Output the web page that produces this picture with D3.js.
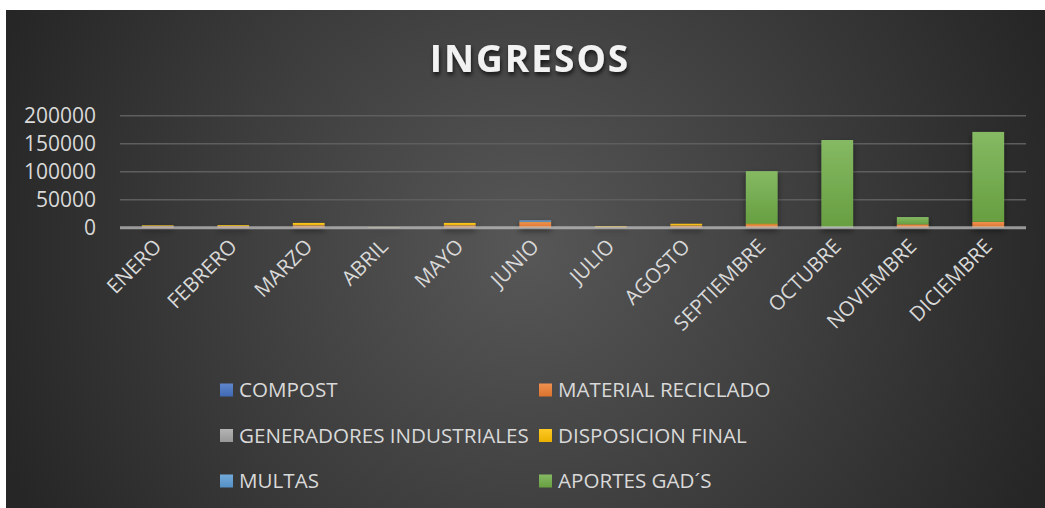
<!DOCTYPE html>
<html><head><meta charset="utf-8">
<script src="https://cdn.jsdelivr.net/npm/d3@7"></script>
<style>body{margin:0;background:#fff;}svg{display:block;}text{font-family:"Open Sans",sans-serif;}</style>
</head><body>
<script>
const months = ["ENERO","FEBRERO","MARZO","ABRIL","MAYO","JUNIO","JULIO","AGOSTO","SEPTIEMBRE","OCTUBRE","NOVIEMBRE","DICIEMBRE"];
const seriesNames = ["COMPOST","MATERIAL RECICLADO","GENERADORES INDUSTRIALES","DISPOSICION FINAL","MULTAS","APORTES GAD´S"];
const compost     = [0,0,0,0,0,0,0,0,0,0,0,500];
const material    = [2000,2500,4000,0,4000,10000,500,3500,6000,0,6000,10000];
const generadores = [1500,500,500,500,500,0,500,500,0,1000,0,0];
const disposicion = [1000,1500,4000,500,4000,500,1500,3000,1500,0,0,0];
const multas      = [0,0,0,0,0,2500,0,0,0,0,0,0];
const aportes     = [0,0,0,0,0,0,0,0,93500,155600,13000,160500];
const yTicks = [0,50000,100000,150000,200000];
const colors = ["#4472C4","#ED7D31","#A5A5A5","#FFC000","#5B9BD5","#70AD47"];

const W=1045,H=508;
const svg=d3.select("body").append("svg").attr("width",W).attr("height",H);
const defs=svg.append("defs");
const rg=defs.append("radialGradient").attr("id","bg").attr("gradientUnits","userSpaceOnUse")
 .attr("cx",525).attr("cy",250).attr("r",560);
rg.append("stop").attr("offset","0").attr("stop-color","#575757");
rg.append("stop").attr("offset","1").attr("stop-color","#262626");
colors.forEach((c,i)=>{
  const g=defs.append("linearGradient").attr("id","g"+i).attr("x1",0).attr("y1",0).attr("x2",0).attr("y2",1);
  g.append("stop").attr("offset","0").attr("stop-color",d3.interpolateRgb(c,"#fff")(0.15));
  g.append("stop").attr("offset","1").attr("stop-color",d3.interpolateRgb(c,"#000")(0.08));
});
const f=defs.append("filter").attr("id","sh").attr("x","-20%").attr("y","-20%").attr("width","140%").attr("height","160%");
f.append("feDropShadow").attr("dx",0).attr("dy",3).attr("stdDeviation",3).attr("flood-color","#000").attr("flood-opacity",0.5);
const ft=defs.append("filter").attr("id","tsh").attr("x","-10%").attr("y","-30%").attr("width","120%").attr("height","160%");
ft.append("feDropShadow").attr("dx",1).attr("dy",3).attr("stdDeviation",2).attr("flood-color","#000").attr("flood-opacity",0.7);

svg.append("rect").attr("x",6).attr("y",10).attr("width",W-6).attr("height",H-10).attr("fill","url(#bg)");

svg.append("text").attr("x",530).attr("y",72).attr("text-anchor","middle")
 .attr("font-size",37).attr("font-weight",700).attr("letter-spacing",2)
 .attr("fill","#f2f2f2").attr("filter","url(#tsh)").text("INGRESOS");

const x0=120,x1=1026;
const x=d3.scaleBand().domain(months).range([x0,x1]).paddingInner(0.58).paddingOuter(0.29);
const y=d3.scaleLinear().domain([0,200000]).range([227.7,115.7]);

// gridlines
svg.append("g").selectAll("line").data(yTicks.filter(d=>d>0)).join("line")
 .attr("x1",x0).attr("x2",x1).attr("y1",d=>y(d)).attr("y2",d=>y(d))
 .attr("stroke","#5e5e5e").attr("stroke-width",1.5);

// y axis
const ya=svg.append("g").attr("transform",`translate(${x0},0)`)
 .call(d3.axisLeft(y).tickValues(yTicks).tickSize(0).tickPadding(24).tickFormat(d3.format("d")));
ya.select(".domain").remove();
ya.selectAll("text").attr("font-size",21).attr("fill","#d9d9d9").attr("font-family","Open Sans");

// stacked bars
const data=months.map((m,i)=>({m,s0:compost[i],s1:material[i],s2:generadores[i],s3:disposicion[i],s4:multas[i],s5:aportes[i]}));
const stack=d3.stack().keys(["s0","s1","s2","s3","s4","s5"])(data);
const bars=svg.append("g").attr("filter","url(#sh)");
stack.forEach((layer,i)=>{
  bars.append("g").selectAll("rect").data(layer.filter(d=>d[1]>d[0])).join("rect")
   .attr("x",d=>x(d.data.m)).attr("width",x.bandwidth())
   .attr("y",d=>y(d[1])).attr("height",d=>y(d[0])-y(d[1]))
   .attr("fill","url(#g"+i+")");
});

// x axis
svg.append("line").attr("x1",x0).attr("x2",x1).attr("y1",y(0)).attr("y2",y(0))
 .attr("stroke","#c8c8c8").attr("stroke-opacity",0.7).attr("stroke-width",3);
const xa=svg.append("g").attr("transform",`translate(0,${y(0)})`)
 .call(d3.axisBottom(x).tickSize(0).tickPadding(0));
xa.select(".domain").remove();
xa.selectAll("text").attr("font-size",20.5).attr("fill","#d9d9d9").attr("font-family","Open Sans")
 .attr("text-anchor","end").attr("dy",0)
 .attr("transform","translate(5,20) rotate(-45)");

// legend
const lg=svg.append("g");
seriesNames.forEach((n,i)=>{
  const col=i%2,row=Math.floor(i/2);
  const lx=col===0?220:539, ly=390+row*45.5;
  lg.append("rect").attr("x",lx).attr("y",ly-6.5).attr("width",13).attr("height",13).attr("fill","url(#g"+i+")");
  lg.append("text").attr("x",lx+19).attr("y",ly).attr("dy","0.35em").attr("font-size",20.6)
   .attr("fill","#d9d9d9").text(n);
});
</script>
</body></html>
